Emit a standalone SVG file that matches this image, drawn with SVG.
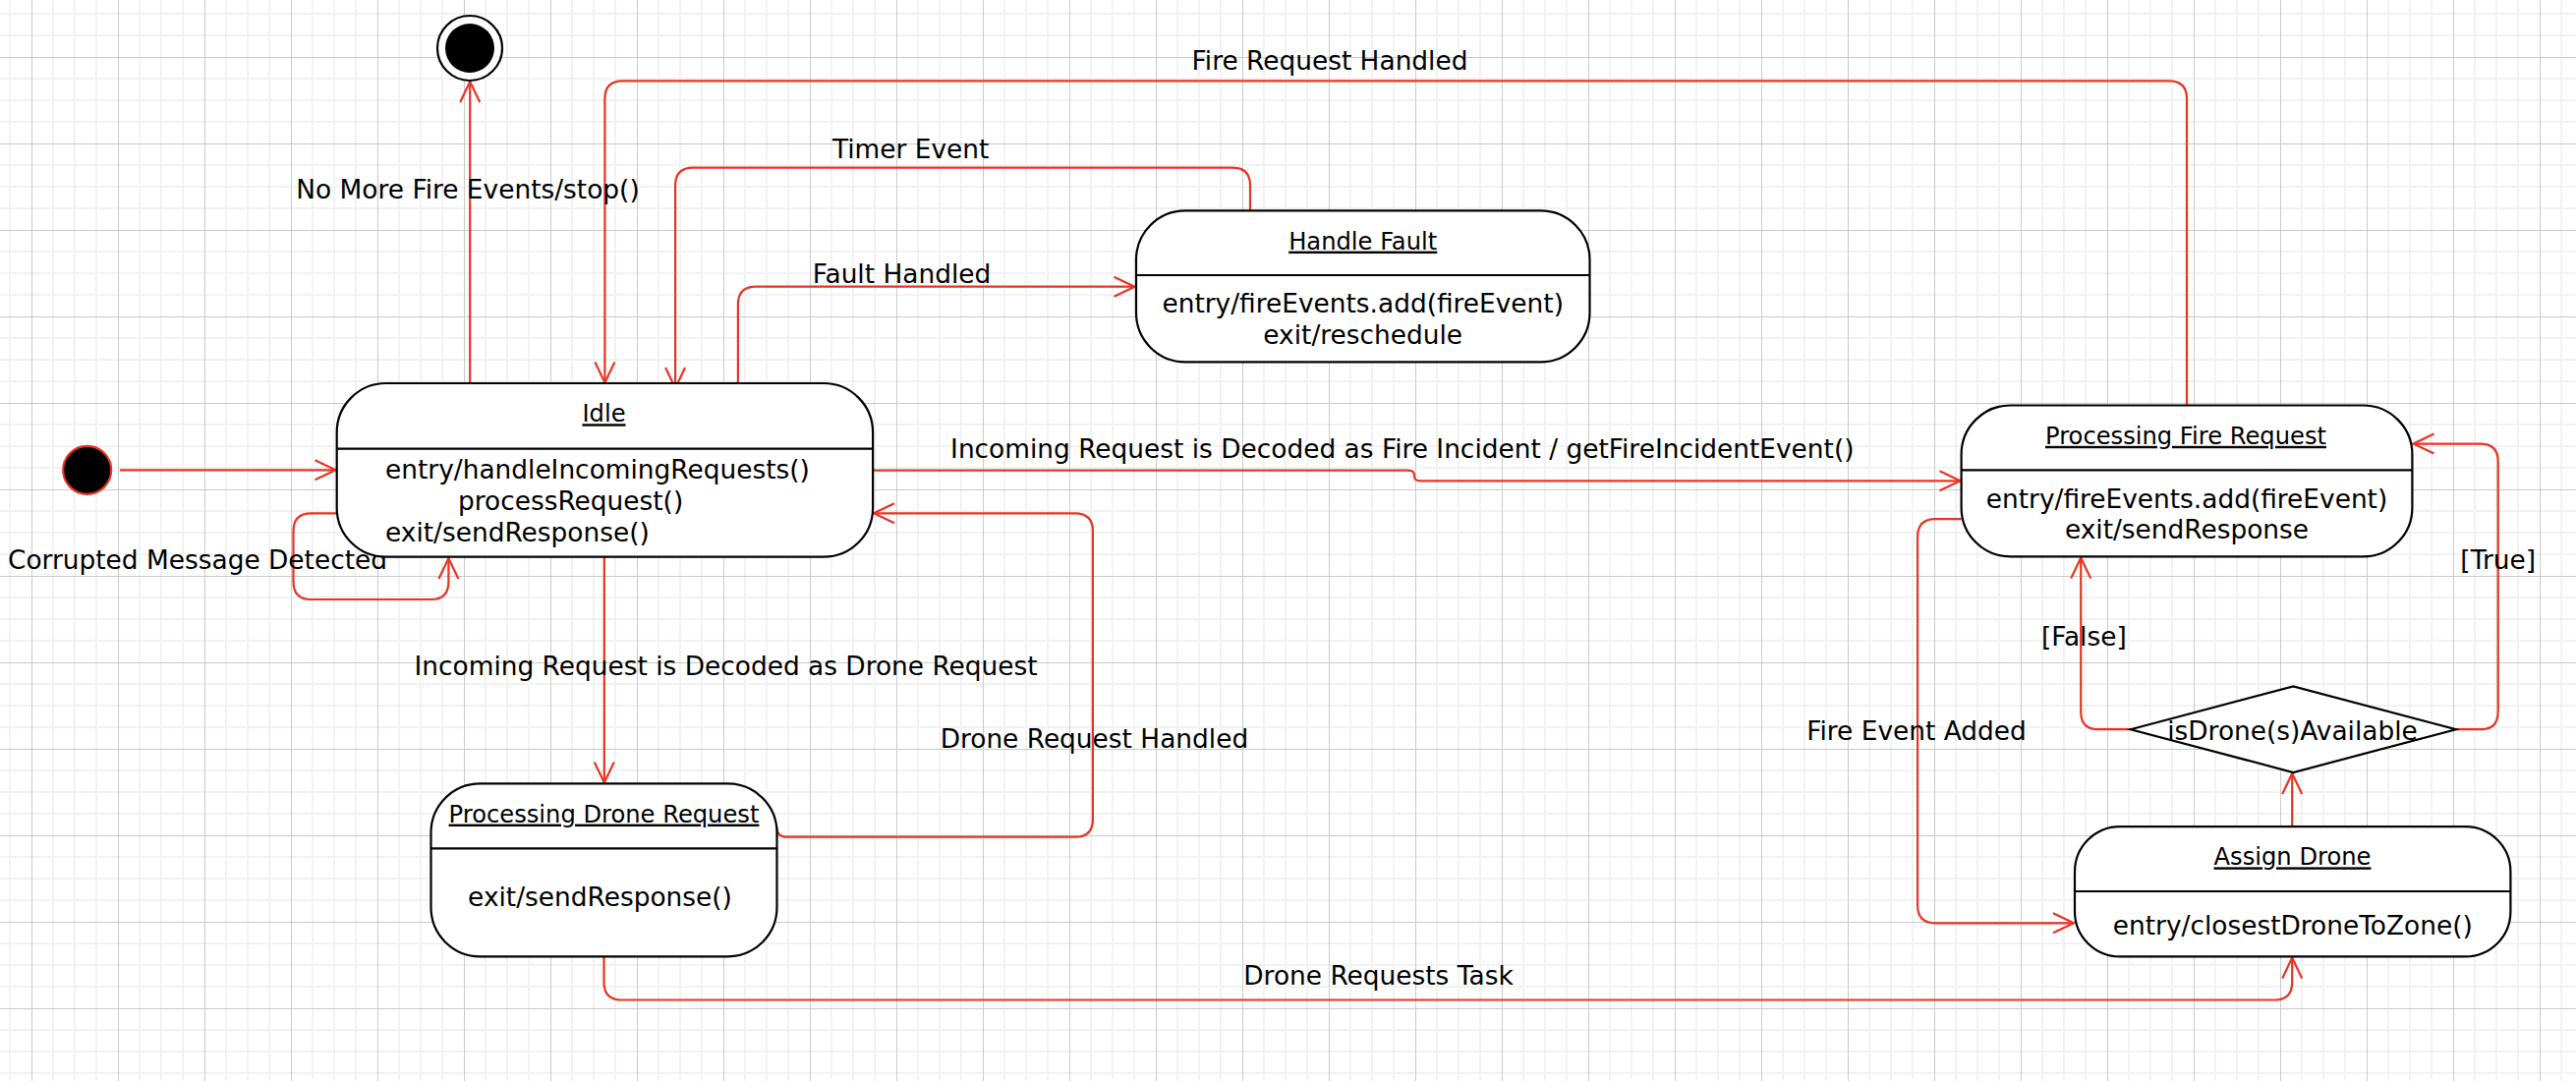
<svg xmlns="http://www.w3.org/2000/svg" width="2621" height="1100" viewBox="0 0 2621 1100">
<defs>
<pattern id="grid" patternUnits="userSpaceOnUse" x="32" y="58" width="88" height="88">
<rect x="0" y="0" width="88" height="88" fill="#ffffff"/>
<rect x="21" y="0" width="2" height="88" fill="#f2f2f2"/>
<rect x="43" y="0" width="2" height="88" fill="#f2f2f2"/>
<rect x="65" y="0" width="2" height="88" fill="#f2f2f2"/>
<rect x="0" y="21" width="88" height="2" fill="#f2f2f2"/>
<rect x="0" y="43" width="88" height="2" fill="#f2f2f2"/>
<rect x="0" y="65" width="88" height="2" fill="#f2f2f2"/>
<rect x="0" y="0" width="1" height="88" fill="#cacaca"/>
<rect x="0" y="0" width="88" height="1" fill="#cacaca"/>
</pattern>
<marker id="arr" markerUnits="userSpaceOnUse" markerWidth="40" markerHeight="40" viewBox="-30 -20 40 40" refX="0" refY="0" orient="auto" overflow="visible">
<path d="M-21,-10 L0,0 L-21,10" fill="none" stroke="#ea3323" stroke-width="2.2"/>
</marker>
<style>
text{font-family:"DejaVu Sans",sans-serif;font-size:26.4px;fill:#000000}
.t{font-size:24.2px;text-decoration:underline;text-anchor:middle}
.m{text-anchor:middle}
.box{fill:#ffffff;stroke:#000000;stroke-width:2.2}
.div{stroke:#000000;stroke-width:2.2}
.e{fill:none;stroke:#ea3323;stroke-width:2.2;marker-end:url(#arr)}
.e0{fill:none;stroke:#ea3323;stroke-width:2.2}
</style>
</defs>
<rect x="0" y="0" width="2621" height="1100" fill="url(#grid)"/>

<g id="connectors">
<path class="e" d="M122,478.3 H341.5"/>
<path class="e" d="M478.2,390 V83"/>
<path class="e" d="M2225,412.5 V100.3 Q2225,82.3 2207,82.3 H633.4 Q615.4,82.3 615.4,100.3 V389.5"/>
<path class="e" d="M1272,214.3 V188.7 Q1272,170.7 1254,170.7 H705.1 Q687.1,170.7 687.1,188.7 V395"/>
<path class="e" d="M750.9,390 V309.7 Q750.9,291.7 768.9,291.7 H1154.5"/>
<path class="e" d="M887.4,478.7 H1433 Q1439,478.7 1439,484 Q1439,489.3 1445,489.3 H1994.5"/>
<path class="e" d="M614.8,566.7 V796.5"/>
<path class="e" d="M790.5,842 Q790.5,851.7 800,851.7 H1093.9 Q1111.9,851.7 1111.9,833.7 V540.3 Q1111.9,522.3 1093.9,522.3 H889"/>
<path class="e" d="M614.5,973.3 V999.5 Q614.5,1017.5 632.5,1017.5 H2314.2 Q2332.2,1017.5 2332.2,999.5 V974.5"/>
<path class="e" d="M1995.6,528.1 H1969.1 Q1951.1,528.1 1951.1,546.1 V921.3 Q1951.1,939.3 1969.1,939.3 H2110"/>
<path class="e" d="M2332.2,841.1 V787"/>
<path class="e" d="M2167.8,742.2 H2135.2 Q2117.2,742.2 2117.2,724.2 V567.5"/>
<path class="e" d="M2498.9,742.2 H2523.7 Q2541.7,742.2 2541.7,724.2 V469.6 Q2541.7,451.6 2523.7,451.6 H2455.5"/>
<path class="e" d="M342.7,522.3 H316.5 Q298.5,522.3 298.5,540.3 V592 Q298.5,610 316.5,610 H438.4 Q456.4,610 456.4,592 V568"/>
<text class="m" x="476" y="202">No More Fire Events/stop()</text>
<text class="m" x="1353" y="70.5">Fire Request Handled</text>
<text class="m" x="926.7" y="160.5">Timer Event</text>
<text class="m" x="917.5" y="288.3">Fault Handled</text>
<text class="m" x="1426.8" y="466">Incoming Request is Decoded as Fire Incident / getFireIncidentEvent()</text>
<text class="m" x="738.6" y="687.3">Incoming Request is Decoded as Drone Request</text>
<text class="m" x="1113.4" y="760.7">Drone Request Handled</text>
<text class="m" x="1402.5" y="1002">Drone Requests Task</text>
<text class="m" x="1950" y="752.6">Fire Event Added</text>
<text class="m" x="2120.3" y="656.5">[False]</text>
<text class="m" x="2541.7" y="579.2">[True]</text>
<text class="m" x="201" y="579">Corrupted Message Detected</text>
</g>

<g id="initial">
<circle cx="88.7" cy="478.3" r="24.5" fill="#000000" stroke="#ea3323" stroke-width="2.2"/>
</g>

<g id="final">
<circle cx="478" cy="49" r="33" fill="#ffffff" stroke="#000000" stroke-width="2.2"/>
<circle cx="478" cy="49" r="25" fill="#000000"/>
</g>

<g id="idle">
<rect class="box" x="342.7" y="390" width="545.4" height="176.7" rx="50" ry="50"/>
<line class="div" x1="342.7" y1="456.7" x2="888.1" y2="456.7"/>
<text class="t" x="614.5" y="429.3">Idle</text>
<text x="392" y="487.3">entry/handleIncomingRequests()</text>
<text x="466" y="519">processRequest()</text>
<text x="392" y="550.7">exit/sendResponse()</text>
</g>

<g id="handle-fault">
<rect class="box" x="1156" y="214.3" width="461.5" height="154" rx="50" ry="50"/>
<line class="div" x1="1156" y1="280" x2="1617.5" y2="280"/>
<text class="t" x="1386.7" y="253.6">Handle Fault</text>
<text class="m" x="1386.7" y="318.3">entry/fireEvents.add(fireEvent)</text>
<text class="m" x="1386.7" y="349.7">exit/reschedule</text>
</g>

<g id="processing-drone-request">
<rect class="box" x="438.5" y="797.3" width="352" height="176" rx="50" ry="50"/>
<line class="div" x1="438.5" y1="863.3" x2="790.5" y2="863.3"/>
<text class="t" x="614.5" y="836.6">Processing Drone Request</text>
<text class="m" x="610.5" y="922.3">exit/sendResponse()</text>
</g>

<g id="processing-fire-request">
<rect class="box" x="1995.6" y="412.5" width="458.8" height="153.9" rx="50" ry="50"/>
<line class="div" x1="1995.6" y1="478.4" x2="2454.4" y2="478.4"/>
<text class="t" x="2224" y="451.8">Processing Fire Request</text>
<text class="m" x="2225" y="516.5">entry/fireEvents.add(fireEvent)</text>
<text class="m" x="2225" y="548.3">exit/sendResponse</text>
</g>

<g id="decision">
<polygon class="box" points="2167.8,742.2 2333.3,698.4 2498.9,742.2 2333.3,786"/>
<text class="m" x="2332.5" y="752.6">isDrone(s)Available</text>
</g>

<g id="assign-drone">
<rect class="box" x="2111" y="841.1" width="443.4" height="132.3" rx="46" ry="46"/>
<line class="div" x1="2111" y1="907" x2="2554.4" y2="907"/>
<text class="t" x="2332.5" y="880.4">Assign Drone</text>
<text class="m" x="2332.8" y="951">entry/closestDroneToZone()</text>
</g>
</svg>
